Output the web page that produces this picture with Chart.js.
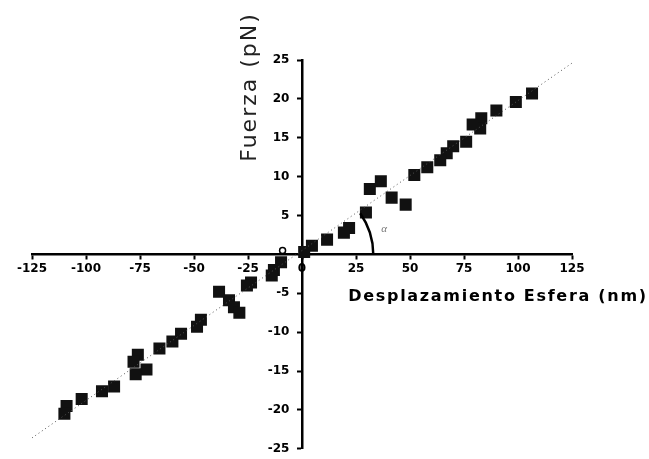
<!DOCTYPE html>
<html>
<head>
<meta charset="utf-8">
<script src="https://cdn.jsdelivr.net/npm/chart.js@4.4.1/dist/chart.umd.min.js"></script>
<style>
  html, body { margin: 0; padding: 0; background: #fff; }
  #caja { width: 649px; height: 459px; }
</style>
</head>
<body>
<div id="caja"><canvas id="grafico" width="649" height="459"></canvas></div>
<script>
// Datos (desplazamiento nm, fuerza pN)
const desplX = [106.5, 99, 90, 83, 82.5, 79, 76, 70, 67, 64, 58, 52, 36.5, 31.4, 41.5, 48, 29.6, 21.8, 19.4, 11.6, 4.6, 1,
    -9.7, -13, -14, -23.6, -25.5, -38.4, -33.8, -31.5, -29, -46.8, -48.6, -56, -60, -66, -76, -78, -72, -77, -87, -92.6, -102, -109, -110];
const fuerzaY = [20.7, 19.6, 18.5, 17.5, 16.2, 16.7, 14.5, 13.9, 13, 12.1, 11.2, 10.2, 9.4, 8.4, 7.3, 6.4, 5.4, 3.4, 2.8, 1.9, 1.1, 0.3,
    -1, -2, -2.7, -3.6, -4, -4.8, -5.9, -6.8, -7.5, -8.4, -9.3, -10.2, -11.2, -12.1, -12.9, -13.8, -14.8, -15.4, -17, -17.6, -18.6, -19.5, -20.5];

// recta de ajuste punteada
const ajusteX = [-125, 125];
const ajusteY = [-23.6, 24.6];

// punto hueco cerca del origen
const huecoX = [-9];
const huecoY = [0.5];

const ticksX = [-125, -100, -75, -50, -25, 0, 25, 50, 75, 100, 125];
const ticksY = [-25, -20, -15, -10, -5, 5, 10, 15, 20, 25];

const tituloY = 'Fuerza (pN)';
const tituloX = 'Desplazamiento Esfera (nm)';
const anguloTxt = 'α';
const radioArco = 33; // en nm, sobre el eje x

function puntos(xs, ys) {
    return xs.map((x, i) => ({ x: x, y: ys[i] }));
}

const fuenteTicks = { family: 'DejaVu Sans', size: 12, weight: 'bold' };

// titulos y arco del angulo
const extras = {
    id: 'extras',
    afterDatasetsDraw(chart) {
        const ctx = chart.ctx;
        const sx = chart.scales.x, sy = chart.scales.y;
        const cx = sx.getPixelForValue(0), cy = sy.getPixelForValue(0);
        const r = sx.getPixelForValue(radioArco) - cx;
        const dx = sx.getPixelForValue(ajusteX[1]) - sx.getPixelForValue(0);
        const dy = sy.getPixelForValue(0) - sy.getPixelForValue(ajusteY[1]);
        const ang = Math.atan2(dy, dx);

        ctx.save();
        ctx.strokeStyle = '#000';
        ctx.lineWidth = 2.5;
        ctx.beginPath();
        ctx.arc(cx, cy, r, -ang, 0);
        ctx.stroke();

        ctx.fillStyle = '#777';
        ctx.font = 'italic 11px "Liberation Serif"';
        ctx.textAlign = 'left';
        ctx.textBaseline = 'middle';
        ctx.fillText(anguloTxt, cx + r + 8, cy - 25);

        ctx.fillStyle = '#222';
        ctx.font = '22px "DejaVu Sans"';
        ctx.letterSpacing = '2px';
        ctx.textAlign = 'center';
        ctx.translate(250, 87);
        ctx.rotate(-Math.PI / 2);
        ctx.fillText(tituloY, 0, 0);
        ctx.restore();

        ctx.save();
        ctx.fillStyle = '#000';
        ctx.font = 'bold 16px "DejaVu Sans"';
        ctx.letterSpacing = '1.7px';
        ctx.textAlign = 'center';
        ctx.textBaseline = 'middle';
        ctx.fillText(tituloX, 498, 297);
        ctx.restore();
    }
};

new Chart(document.getElementById('grafico'), {
    type: 'scatter',
    data: {
        datasets: [
            {
                type: 'line',
                data: puntos(ajusteX, ajusteY),
                borderColor: '#555',
                borderWidth: 1,
                borderDash: [1, 3],
                pointRadius: 0,
                fill: false
            },
            {
                data: puntos(desplX, fuerzaY),
                pointStyle: 'rect',
                pointRadius: 8.5,
                backgroundColor: '#111',
                borderColor: '#111',
                borderWidth: 0
            },
            {
                data: puntos(huecoX, huecoY),
                pointStyle: 'circle',
                pointRadius: 3,
                backgroundColor: '#fff',
                borderColor: '#000',
                borderWidth: 1.5
            }
        ]
    },
    options: {
        responsive: false,
        animation: false,
        layout: { padding: { left: 32, right: 77, top: 60, bottom: 7 } },
        plugins: { legend: { display: false }, tooltip: { enabled: false } },
        scales: {
            x: {
                type: 'linear',
                position: { y: 0 },
                min: -125, max: 125,
                afterBuildTicks: ax => { ax.ticks = ticksX.map(v => ({ value: v })); },
                ticks: { color: '#000', font: fuenteTicks, padding: 3, maxRotation: 0 },
                grid: { drawOnChartArea: false, tickLength: 4, tickWidth: 2, color: '#000' },
                border: { color: '#000', width: 2.5 }
            },
            y: {
                type: 'linear',
                position: { x: 0 },
                min: -25, max: 25,
                afterBuildTicks: ax => { ax.ticks = ticksY.map(v => ({ value: v })); },
                // el eje centrado alinea el texto sobre la linea; los espacios lo separan
                ticks: { color: '#000', font: fuenteTicks, callback: v => v + '   ' },
                grid: { drawOnChartArea: false, tickLength: 4, tickWidth: 2, color: '#000' },
                border: { color: '#000', width: 2.5 }
            }
        }
    },
    plugins: [extras]
});
</script>
</body>
</html>
